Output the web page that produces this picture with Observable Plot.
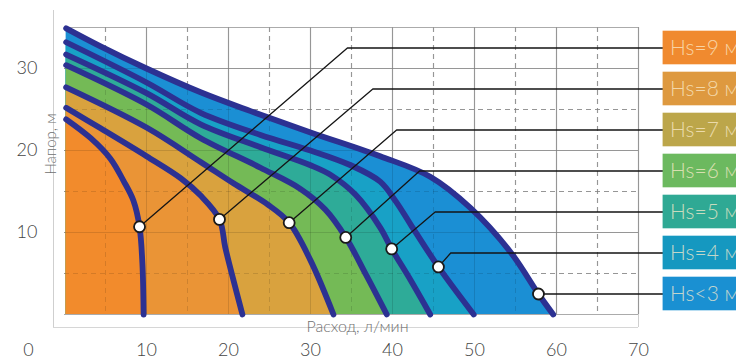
<!DOCTYPE html>
<html>
<head>
<meta charset="utf-8">
<script src="https://cdn.jsdelivr.net/npm/d3@7"></script>
<script src="https://cdn.jsdelivr.net/npm/@observablehq/plot@0.6"></script>
<style>
  html, body { margin: 0; padding: 0; background: #fff; overflow: hidden; }
</style>
</head>
<body>
<div id="chart"></div>
<script>
// ---- data (flow л/мин, head м) ----
const labels = ["Hs<3 м", "Hs=4 м", "Hs=5 м", "Hs=6 м", "Hs=7 м", "Hs=8 м", "Hs=9 м"];

const flowHs3 = [0.2, 4.4, 10, 16.6, 22.7, 30, 38.5, 44.6, 49.5, 54.4, 57.8, 59.6];
const headHs3 = [34.9, 32.7, 30.0, 27.1, 24.8, 22.2, 19.3, 16.8, 13.0, 7.6, 2.5, 0];
const flowHs4 = [0.2, 10, 16.6, 23.9, 30, 34.9, 38.5, 40.4, 42.2, 45.6, 49.9];
const headHs4 = [33.2, 28.3, 24.6, 21.9, 20.0, 18.2, 16.2, 13.8, 11.0, 5.8, 0];
const flowHs5 = [0.2, 10, 16.6, 23.9, 30, 32.5, 35.5, 38.5, 39.9, 42.2, 44.6];
const headHs5 = [31.7, 27.0, 23.2, 20.4, 18.2, 17.0, 14.6, 10.6, 8.0, 4.2, 0];
const flowHs6 = [0.2, 10, 16.6, 23.9, 28.8, 31.8, 34.3, 36.8, 39.3];
const headHs6 = [30.4, 25.6, 21.5, 17.9, 15.3, 12.8, 9.4, 4.8, 0];
const flowHs7 = [0.2, 10, 16.6, 20.6, 24.8, 27.4, 30.0, 32.8];
const headHs7 = [27.7, 22.8, 18.6, 16.0, 13.4, 11.2, 6.6, 0];
const flowHs8 = [0.2, 4.4, 10, 14.2, 16.6, 18.9, 19.6, 20.6, 21.7];
const headHs8 = [25.2, 22.7, 19.3, 16.6, 14.5, 11.6, 8.2, 4.2, 0];
const flowHs9 = [0.2, 3.2, 5.6, 7.2, 8.4, 9.15, 9.5, 9.65];
const headHs9 = [23.8, 21.5, 19.0, 16.3, 13.9, 10.7, 6.2, 0];

const markerQ = [57.8, 45.6, 39.9, 34.3, 27.4, 18.9, 9.15];
const markerH = [2.5, 5.8, 8.0, 9.4, 11.2, 11.6, 10.7];
const elbowQ  = [57.8, 47.1, 45.2, 43.3, 40.5, 37.6, 34.5];
const labelH  = [2.5, 7.5, 12.5, 17.5, 22.5, 27.5, 32.5];

const xTicks = [10, 20, 30, 40, 50, 60, 70];
const yTicks = [10, 20, 30];
const xMinor = [5, 15, 25, 35, 45, 55, 65];
const yMajor = [0, 10, 20, 30, 35];
const yMinor = [5, 15, 25];

// ---- styles ----
const bandColors = ["#1b8fd4", "#18a1c6", "#2eab98", "#74ba56", "#d9a23e", "#ea9436", "#f28b2c"];
const boxColors  = ["#1a90d2", "#1598c0", "#2fa994", "#6cb95f", "#bca64a", "#de993f", "#f08a2f"];
const navy = "#2c3192";
const BOX_X = 73;

const flows = [flowHs3, flowHs4, flowHs5, flowHs6, flowHs7, flowHs8, flowHs9];
const heads = [headHs3, headHs4, headHs5, headHs6, headHs7, headHs8, headHs9];
const series = flows.map((fq, i) => fq.map((q, j) => ({q, h: heads[i][j], i})));
const markers = markerQ.map((q, i) => ({q, h: markerH[i], i}));
const leaders = labels.flatMap((l, i) => [
  {q: markerQ[i], h: markerH[i], i},
  {q: elbowQ[i], h: labelH[i], i},
  {q: BOX_X, h: labelH[i], i}
]);
const boxes = labels.map((label, i) => ({label, h: labelH[i], i}));

const gridStroke = "#ababab";
const marks = [
  // outer light frame
  Plot.ruleX([0], {dx: -11, insetTop: -17, insetBottom: -13, stroke: "#cfcfcf"}),
  Plot.ruleY([0], {dy: 13, insetLeft: -11, stroke: "#d6d6d6"}),
  Plot.ruleX([70], {insetBottom: -13, stroke: "#cfcfcf"}),
  // grid
  Plot.ruleX(xTicks, {stroke: gridStroke, strokeWidth: 1.2}),
  Plot.ruleX(xMinor, {stroke: gridStroke, strokeWidth: 1.2, strokeDasharray: "5,4"}),
  Plot.ruleY(yMajor, {stroke: gridStroke, strokeWidth: 1.2}),
  Plot.ruleY(yMinor, {stroke: gridStroke, strokeWidth: 1.2, strokeDasharray: "5,4"}),
  // colored bands (outermost first)
  ...series.map((s, i) => Plot.areaY(s, {x: "q", y1: 0, y2: "h", fill: bandColors[i], curve: "catmull-rom"})),
  // faint grid through the fill
  Plot.ruleX(xTicks, {stroke: "#000", strokeOpacity: 0.12}),
  Plot.ruleX(xMinor, {stroke: "#000", strokeOpacity: 0.12, strokeDasharray: "5,4"}),
  Plot.ruleY(yMajor.slice(1, 4), {stroke: "#000", strokeOpacity: 0.12}),
  Plot.ruleY(yMinor, {stroke: "#000", strokeOpacity: 0.12, strokeDasharray: "5,4"}),
  // curves
  ...series.map(s => Plot.line(s, {x: "q", y: "h", stroke: navy, strokeWidth: 5.8, curve: "catmull-rom"})),
  // leaders
  Plot.line(leaders, {x: "q", y: "h", z: "i", stroke: "#151515", strokeWidth: 1.3}),
  Plot.dot(markers, {x: "q", y: "h", r: 5.5, fill: "white", stroke: "#1a1a1a", strokeWidth: 1.8}),
  // label boxes
  Plot.rect(boxes, {x1: d => BOX_X, x2: d => 82.5, y1: d => d.h - 2.05, y2: d => d.h + 2.05, fill: (d) => boxColors[d.i]}),
  Plot.text(boxes, {x: d => BOX_X, y: "h", text: "label", textAnchor: "start", dx: 7, fill: "#fbeccc", fillOpacity: 0.75, fontSize: 21, fontWeight: 300}),
  // axis titles
  Plot.text(["Расход, л/мин"], {frameAnchor: "bottom", textAnchor: "middle", lineAnchor: "middle", dx: 6, dy: 12, fontSize: 16, fill: "#707070", fontWeight: 300}),
  Plot.text(["Напор, м"], {frameAnchor: "left", textAnchor: "middle", lineAnchor: "middle", dx: -13, dy: -27, rotate: -90, fontSize: 15, fill: "#707070", fontWeight: 300}),
  Plot.text(["0"], {frameAnchor: "bottom-left", textAnchor: "middle", lineAnchor: "middle", dx: -36, dy: 36, fontSize: 18, fill: "#444", fontWeight: 300})
];

const chart = Plot.plot({
  width: 736, height: 359,
  marginLeft: 64, marginRight: 98, marginTop: 27, marginBottom: 45,
  x: {domain: [0, 70], ticks: xTicks, tickSize: 0, tickPadding: 29, label: null},
  y: {domain: [0, 35], ticks: yTicks, tickSize: 0, tickPadding: 27, label: null},
  style: {fontFamily: "Lato, 'Open Sans', sans-serif", fontSize: "18px", fontWeight: 300, color: "#444", background: "white"},
  marks
});
document.getElementById("chart").appendChild(chart);
</script>
</body>
</html>
